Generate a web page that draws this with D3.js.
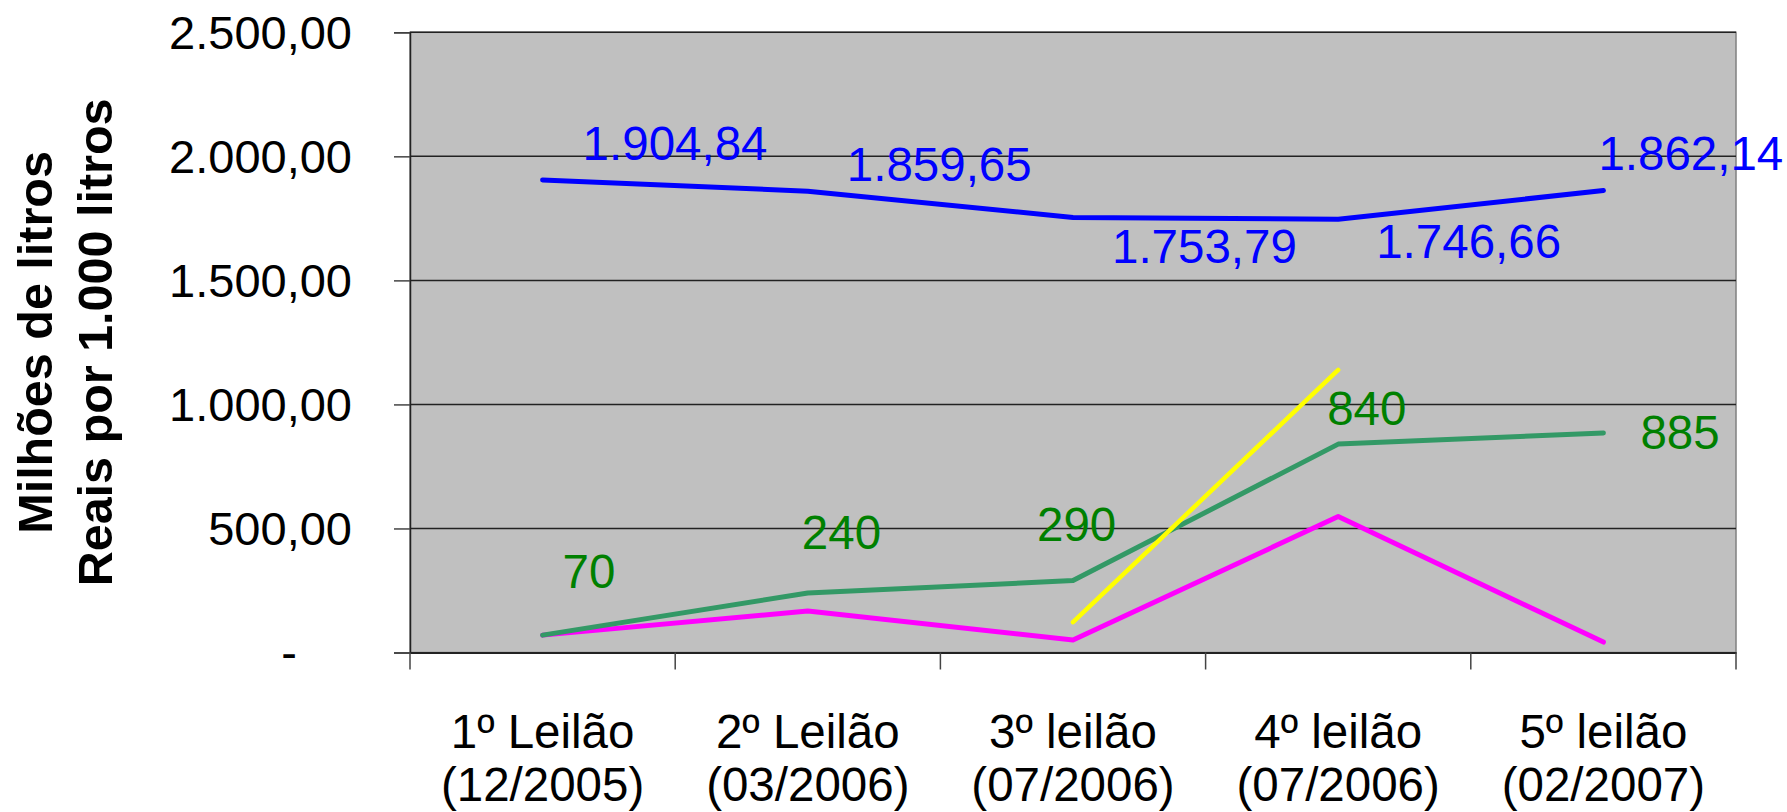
<!DOCTYPE html>
<html>
<head>
<meta charset="utf-8">
<script src="https://cdn.jsdelivr.net/npm/d3@7"></script>
<style>
  html, body { margin: 0; padding: 0; background: #fff; }
  svg { display: block; font-family: Arial, "Liberation Sans", sans-serif; }
</style>
</head>
<body>
<div id="mainDiv"></div>
<script>
// Data
let categories = ["1º Leilão|(12/2005)", "2º Leilão|(03/2006)", "3º leilão|(07/2006)",
  "4º leilão|(07/2006)", "5º leilão|(02/2007)"];
let precoValues = [1904.84, 1859.65, 1753.79, 1746.66, 1862.14];
let volumeValues = [70, 240, 290, 840, 885];
let magentaValues = [70, 167, 50, 548, 42];
let yellowValues = [null, null, 122, 1139, null];
let yTicks = [0, 500, 1000, 1500, 2000, 2500];
let yTitleLines = ["Milhões de litros", "Reais por 1.000 litros"];

// label placement (offset of label start / baseline from its point)
let precoLabelOffsets = [[40, -20], [39, -10], [39, 46], [38, 39], [-5, -21]];
let volumeLabelOffsets = [[20, -47], [-6, -44], [-36, -40], [-11, -19], [37, 16]];

let chartSize = {
  width: 1787,
  height: 812,
  margin: { left: 410, right: 51, top: 32.3, bottom: 159.5 }
};

let ptBr = d3.formatLocale({ decimal: ",", thousands: ".", grouping: [3], currency: ["R$", ""] });
let fmt2 = ptBr.format(",.2f");
let fmt0 = ptBr.format(",.0f");

document.addEventListener("DOMContentLoaded", function () {
  createChart();
});

function createChart() {
  let plotLeft = chartSize.margin.left;
  let plotRight = chartSize.width - chartSize.margin.right;
  let plotTop = chartSize.margin.top;
  let plotBottom = chartSize.height - chartSize.margin.bottom;

  let x = d3.scaleBand()
    .domain(d3.range(categories.length))
    .range([plotLeft, plotRight])
    .padding(0);

  let cx = i => x(i) + x.bandwidth() / 2;

  let y = d3.scaleLinear()
    .domain([0, 2500])
    .range([plotBottom, plotTop]);

  const svg = d3.select("#mainDiv")
    .append("svg")
    .attr("width", chartSize.width)
    .attr("height", chartSize.height)
    .attr("viewBox", [0, 0, chartSize.width, chartSize.height]);

  // plot area
  svg.append("rect")
    .attr("x", plotLeft)
    .attr("y", plotTop)
    .attr("width", plotRight - plotLeft)
    .attr("height", plotBottom - plotTop)
    .attr("fill", "#c0c0c0")
    .attr("stroke", "#808080")
    .attr("stroke-width", 1.5);

  // gridlines
  svg.append("g")
    .selectAll("line")
    .data(yTicks.filter(d => d > 0))
    .join("line")
    .attr("x1", plotLeft)
    .attr("x2", plotRight)
    .attr("y1", d => y(d))
    .attr("y2", d => y(d))
    .attr("stroke", "#222")
    .attr("stroke-width", 1.5);

  // y axis
  let yAxis = g => g
    .attr("transform", `translate(${plotLeft},0)`)
    .call(d3.axisLeft(y)
      .tickValues(yTicks)
      .tickSize(16)
      .tickPadding(42)
      .tickFormat(d => d == 0 ? "-" : fmt2(d)))
    .call(g => g.select(".domain").attr("stroke", "#222").attr("stroke-width", 1.5))
    .call(g => g.selectAll(".tick line").attr("stroke", "#444").attr("stroke-width", 1.5))
    .call(g => g.selectAll(".tick text")
      .attr("fill", "#000")
      .attr("font-size", 47)
      .attr("font-family", "Arial, 'Liberation Sans', sans-serif")
      .attr("dy", "0.35em")
      .attr("dx", d => d == 0 ? -55 : 0));

  svg.append("g").call(yAxis);

  // x axis
  let xAxis = g => g
    .attr("transform", `translate(0,${plotBottom})`)
    .call(d3.axisBottom(x).tickSize(0).tickFormat(""))
    .call(g => g.select(".domain").attr("stroke", "#222").attr("stroke-width", 2));

  svg.append("g").call(xAxis);

  svg.append("g")
    .selectAll("line")
    .data(d3.range(categories.length + 1))
    .join("line")
    .attr("x1", i => plotLeft + i * x.bandwidth())
    .attr("x2", i => plotLeft + i * x.bandwidth())
    .attr("y1", plotBottom)
    .attr("y2", plotBottom + 17)
    .attr("stroke", "#444")
    .attr("stroke-width", 1.5);

  // category labels
  let catText = svg.append("g")
    .selectAll("text")
    .data(categories)
    .join("text")
    .attr("x", (d, i) => cx(i))
    .attr("y", 748)
    .attr("text-anchor", "middle")
    .attr("font-size", 47.5)
    .attr("fill", "#000");

  catText.selectAll("tspan")
    .data(d => d.split("|"))
    .join("tspan")
    .attr("x", function () { return d3.select(this.parentNode).attr("x"); })
    .attr("dy", (d, i) => i == 0 ? 0 : 53)
    .text(d => d);

  // y title
  svg.append("g")
    .selectAll("text")
    .data(yTitleLines)
    .join("text")
    .attr("transform", (d, i) => `translate(${i == 0 ? 52 : 112},${(plotTop + plotBottom) / 2}) rotate(-90)`)
    .attr("text-anchor", "middle")
    .attr("font-size", 48.5)
    .attr("font-weight", "bold")
    .attr("fill", "#000")
    .text(d => d);

  // lines
  let line = d3.line()
    .defined(d => d != null)
    .x((d, i) => cx(i))
    .y(d => y(d));

  let series = [
    { values: magentaValues, color: "#ff00ff", width: 5 },
    { values: volumeValues, color: "#339966", width: 5 },
    { values: yellowValues, color: "#ffff00", width: 4.5 },
    { values: precoValues, color: "#0000ff", width: 5 }
  ];

  svg.append("g")
    .selectAll("path")
    .data(series)
    .join("path")
    .attr("d", d => line(d.values))
    .attr("fill", "none")
    .attr("stroke", d => d.color)
    .attr("stroke-width", d => d.width)
    .attr("stroke-linejoin", "round")
    .attr("stroke-linecap", "round");

  // data labels
  svg.append("g")
    .selectAll("text")
    .data(precoValues)
    .join("text")
    .attr("x", (d, i) => cx(i) + precoLabelOffsets[i][0])
    .attr("y", (d, i) => y(d) + precoLabelOffsets[i][1])
    .attr("font-size", 47.5)
    .attr("fill", "#0000ff")
    .text(d => fmt2(d));

  svg.append("g")
    .selectAll("text")
    .data(volumeValues)
    .join("text")
    .attr("x", (d, i) => cx(i) + volumeLabelOffsets[i][0])
    .attr("y", (d, i) => y(d) + volumeLabelOffsets[i][1])
    .attr("font-size", 47.5)
    .attr("fill", "#008000")
    .text(d => fmt0(d));

  return svg.node();
}
</script>
</body>
</html>
